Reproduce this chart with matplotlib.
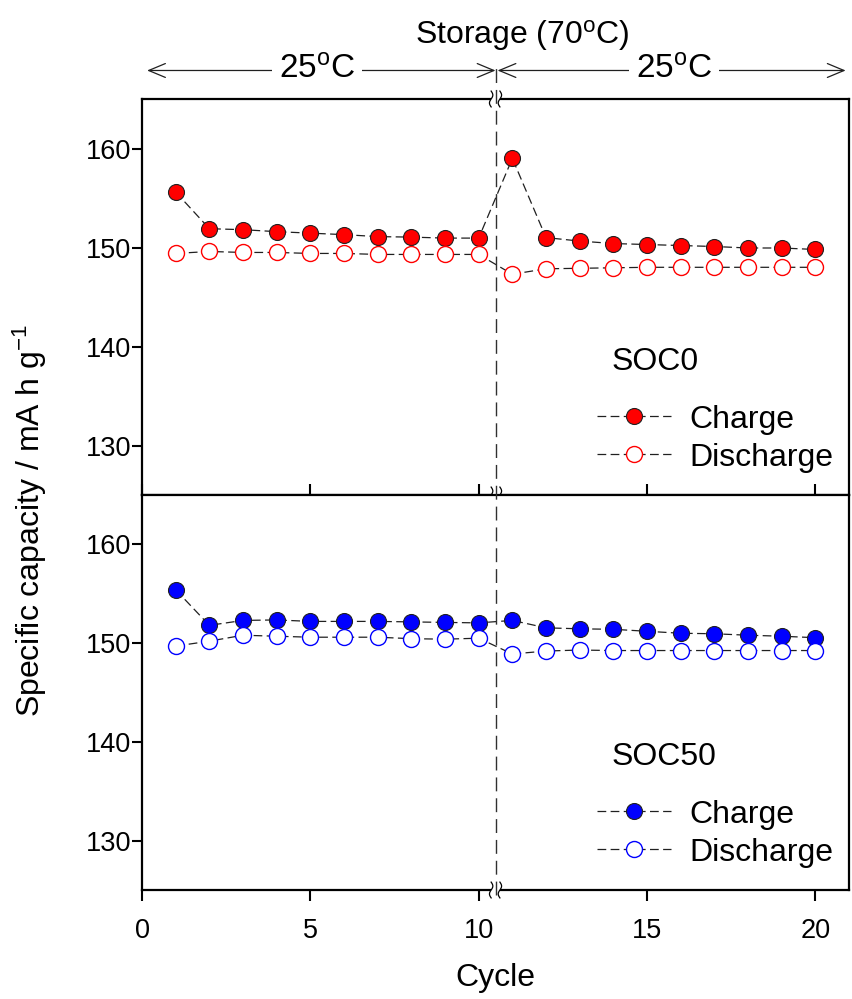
import numpy as np
import matplotlib
matplotlib.use("Agg")
import matplotlib.pyplot as plt
from matplotlib.transforms import blended_transform_factory
from matplotlib.lines import Line2D

plt.rcParams['font.family'] = ['Liberation Sans', 'DejaVu Sans']
plt.rcParams['mathtext.fontset'] = 'custom'
plt.rcParams['mathtext.rm'] = 'Liberation Sans'
plt.rcParams['mathtext.it'] = 'Liberation Sans'

# data
cycles = [1, 2, 3, 4, 5, 6, 7, 8, 9, 10, 11, 12, 13, 14, 15, 16, 17, 18, 19, 20]
soc0_charge = [155.6, 151.9, 151.8, 151.6, 151.45, 151.3, 151.1, 151.05, 150.95, 150.95,
               159.0, 151.0, 150.65, 150.4, 150.3, 150.2, 150.1, 149.95, 149.95, 149.8]
soc0_discharge = [149.4, 149.6, 149.5, 149.5, 149.4, 149.4, 149.3, 149.3, 149.3, 149.3,
                  147.3, 147.85, 147.9, 147.95, 148.0, 148.0, 148.0, 148.0, 148.0, 148.0]
soc50_charge = [155.4, 151.8, 152.3, 152.35, 152.2, 152.2, 152.2, 152.15, 152.1, 152.05,
                152.3, 151.55, 151.45, 151.4, 151.2, 151.0, 150.95, 150.8, 150.7, 150.55]
soc50_discharge = [149.7, 150.2, 150.8, 150.7, 150.6, 150.6, 150.6, 150.45, 150.4, 150.5,
                   148.9, 149.2, 149.3, 149.25, 149.25, 149.25, 149.25, 149.25, 149.25, 149.25]
panels = ["SOC0", "SOC50"]
colors = ["#ff0000", "#0000ff"]
x_ticks = [0, 5, 10, 15, 20]
y_ticks = [130, 140, 150, 160]
x_break = 10.5

fig = plt.figure(figsize=(8.52, 9.99), dpi=100)
ax1 = fig.add_axes([0.1667, 0.5045, 0.8298, 0.3964])
ax2 = fig.add_axes([0.1667, 0.1091, 0.8298, 0.3954])

tick_fs = 19.5
lab_fs = 23
dash = (0, (7, 3.5))

series = [(soc0_charge, soc0_discharge), (soc50_charge, soc50_discharge)]
for ax, name, col, (chg, dis) in zip([ax1, ax2], panels, colors, series):
    ax.plot(cycles, chg, color="#202020", lw=0.9, ls=dash, marker="o", ms=11.5,
            mfc=col, mec="#202020", mew=0.8, label="Charge", zorder=3)
    ax.plot(cycles, dis, color="#202020", lw=0.9, ls=dash, marker="o", ms=11.5,
            mfc="white", mec=col, mew=1.0, label="Discharge", zorder=3)
    ax.set_xlim(0, 21)
    ax.set_ylim(125, 165)
    ax.set_yticks(y_ticks)
    ax.set_xticks(x_ticks)
    for sp in ax.spines.values():
        sp.set_linewidth(1.6)
    ax.tick_params(axis="y", direction="out", length=7, width=1.5, labelsize=tick_fs, pad=1)
    ax.tick_params(axis="x", length=8, width=1.5, labelsize=tick_fs, pad=12)
    leg = ax.legend(title=name, loc="lower left", bbox_to_anchor=(0.612, 0.0),
                    frameon=False, fontsize=lab_fs, title_fontsize=lab_fs,
                    handlelength=2.3, handletextpad=0.6, labelspacing=0.25,
                    alignment="left", borderaxespad=0.3)
    leg._legend_box.sep = 20
    leg.get_title().set_position((14, 0))

ax1.tick_params(axis="x", direction="in", labelbottom=False)
ax2.tick_params(axis="x", direction="out")

# axis break marks
for ax, ys in [(ax1, [0.0, 1.0]), (ax2, [0.0])]:
    tr = ax.get_xaxis_transform()
    for yb in ys:
        ax.plot([x_break - 0.13, x_break + 0.13], [yb, yb], color="white", lw=3,
                transform=tr, clip_on=False, zorder=5, solid_capstyle="butt")
        t = np.linspace(-1, 1, 30)
        for dx in [-0.13, 0.13]:
            ax.plot(x_break + dx + 0.05 * np.sin(np.pi * t), yb + 0.02 * t, color="black",
                    lw=0.9, transform=tr, clip_on=False, zorder=6)

# vertical dashed divider across both panels
trv = blended_transform_factory(ax2.transData, fig.transFigure)
fig.add_artist(Line2D([x_break, x_break], [0.104, 0.935], transform=trv,
                      color="#303030", lw=1.0, ls=(0, (10, 5))))

# header arrows
y_arr = 1.072
arrow = dict(arrowstyle="<->,head_length=1.2,head_width=0.5", lw=0.9, color="#202020",
             shrinkA=0, shrinkB=0)
ax1.annotate("", xy=(0.15, y_arr), xytext=(x_break, y_arr),
             xycoords=ax1.get_xaxis_transform(), arrowprops=arrow, annotation_clip=False)
ax1.annotate("", xy=(x_break + 0.06, y_arr), xytext=(20.9, y_arr),
             xycoords=ax1.get_xaxis_transform(), arrowprops=arrow, annotation_clip=False)
for xc in [5.2, 15.8]:
    ax1.text(xc, y_arr, "25$^{\\rm o}$C", transform=ax1.get_xaxis_transform(), fontsize=24,
             ha="center", va="center", bbox=dict(fc="white", ec="none", pad=5))
ax1.text(11.3, 1.16, "Storage (70$^{\\rm o}$C)", transform=ax1.get_xaxis_transform(),
         fontsize=lab_fs, ha="center", va="center")

fig.text(0.035, 0.479, "Specific capacity / mA h g$^{-1}$", rotation=90, fontsize=lab_fs,
         ha="center", va="center")
fig.text(0.581, 0.021, "Cycle", fontsize=lab_fs, ha="center", va="center")

fig.savefig("out.png", dpi=100)
